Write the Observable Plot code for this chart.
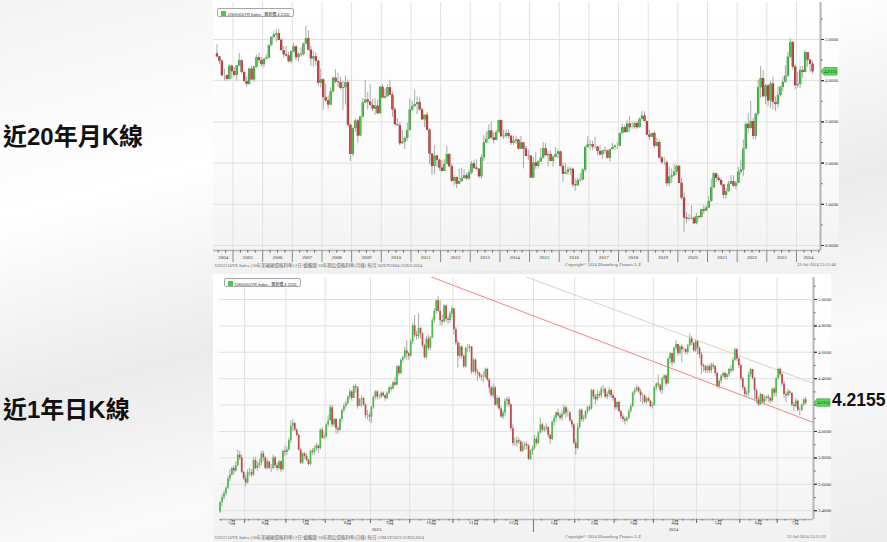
<!DOCTYPE html>
<html><head><meta charset="utf-8">
<script src="https://cdn.jsdelivr.net/npm/d3@7"></script>
<script src="https://cdn.jsdelivr.net/npm/@observablehq/plot@0.6"></script>
<style>
html,body{margin:0;padding:0;}
body{width:887px;height:542px;overflow:hidden;position:relative;
 background:linear-gradient(165deg,#f3f3f3 0%,#ffffff 28%,#ebebeb 52%,#fafafa 72%,#ececec 100%);
 font-family:"Liberation Sans","Noto Sans CJK TC",sans-serif;}
.panel{position:absolute;background:linear-gradient(to bottom,#ffffff 0%,#fbfbfb 60%,#f1f1f1 100%);}
.big{position:absolute;font-weight:700;color:#111;font-family:"Liberation Sans","Noto Sans CJK TC",sans-serif;white-space:nowrap;}
.tiny{position:absolute;white-space:nowrap;transform-origin:0 0;transform:scale(0.5);font-size:9px;color:#666;font-family:"Liberation Serif","Noto Sans CJK TC",serif;}
.legend{position:absolute;box-sizing:border-box;border:1px solid #a8a8a8;border-radius:2px;background:#fbfbfb;}
.legend .sw{position:absolute;left:3px;top:2px;width:5px;height:5px;background:#3fd13f;}
</style></head>
<body>
<div class="big" style="left:3px;top:124px;font-size:24px;line-height:26px;">近20年月K線</div>
<div class="big" style="left:3px;top:397px;font-size:24px;line-height:26px;">近1年日K線</div>
<div class="big" style="left:832px;top:391px;font-size:17.5px;line-height:19px;">4.2155</div>

<div id="top" class="panel" style="left:213px;top:0px;width:626px;height:271px;"></div>
<div id="bot" class="panel" style="left:213px;top:274px;width:618px;height:268px;"></div>

<script>
// ---------------- Monthly data (Jun 2004 – Jul 2024), USGG10YR ----------------
const monthlyStartYear = 2004, monthlyStartMonth = 6, monthlyFirstOpen = 4.65;
const monthlyClose = [
 4.58,4.47,4.12,4.12,4.03,4.35,4.22,
 4.13,4.36,4.48,4.20,3.98,3.91,4.28,4.02,4.33,4.56,4.49,4.39,
 4.52,4.55,4.85,5.05,5.11,5.14,4.98,4.73,4.63,4.60,4.46,4.70,
 4.82,4.56,4.64,4.63,4.89,5.02,4.74,4.53,4.58,4.47,3.94,4.02,
 3.59,3.51,3.41,3.73,4.06,3.97,3.95,3.81,3.83,3.95,2.92,2.21,
 2.84,3.02,2.66,3.12,3.46,3.53,3.48,3.40,3.31,3.38,3.20,3.84,
 3.58,3.61,3.83,3.65,3.29,2.93,2.91,2.47,2.51,2.60,2.79,3.29,
 3.37,3.42,3.47,3.29,3.05,3.16,2.80,2.22,1.92,2.17,2.07,1.88,
 1.80,1.97,2.21,1.91,1.56,1.65,1.49,1.55,1.63,1.69,1.62,1.76,
 1.98,1.88,1.85,1.67,2.13,2.49,2.58,2.78,2.61,2.55,2.74,3.03,
 2.64,2.65,2.72,2.65,2.48,2.53,2.56,2.34,2.49,2.34,2.16,2.17,
 1.64,2.00,1.92,2.03,2.12,2.35,2.18,2.21,2.04,2.14,2.21,2.27,
 1.92,1.73,1.77,1.83,1.85,1.47,1.45,1.58,1.59,1.83,2.38,2.44,
 2.45,2.39,2.39,2.28,2.20,2.30,2.29,2.12,2.33,2.38,2.41,2.41,
 2.72,2.86,2.74,2.95,2.86,2.86,2.96,2.86,3.06,3.14,3.01,2.68,
 2.63,2.72,2.41,2.50,2.12,2.01,2.01,1.50,1.66,1.69,1.78,1.92,
 1.51,1.15,0.67,0.64,0.65,0.66,0.53,0.70,0.68,0.87,0.84,0.91,
 1.07,1.40,1.74,1.63,1.58,1.47,1.22,1.31,1.49,1.55,1.44,1.51,
 1.78,1.83,2.34,2.94,2.84,3.01,2.65,3.19,3.83,4.05,3.61,3.87,
 3.51,3.92,3.47,3.42,3.64,3.84,3.96,4.11,4.57,4.93,4.33,3.88,
 3.91,4.25,4.20,4.68,4.50,4.40,4.2155
];
const monthlyHigh = [
 4.87,4.59,4.51,4.29,4.14,4.39,4.38,
 4.32,4.37,4.66,4.51,4.25,4.09,4.31,4.36,4.35,4.62,4.66,4.56,
 4.53,4.63,4.87,5.07,5.20,5.24,5.24,5.03,4.83,4.83,4.69,4.72,
 4.90,4.85,4.68,4.79,4.91,5.32,5.21,4.84,4.71,4.68,4.49,4.28,
 4.05,3.92,3.63,3.83,4.09,4.27,4.18,4.09,3.98,4.11,4.02,2.95,
 2.87,3.07,3.06,3.13,3.57,4.00,3.71,3.90,3.55,3.56,3.53,3.86,
 3.90,3.80,3.90,4.01,3.72,3.35,3.08,2.99,2.80,2.64,2.97,3.56,
 3.51,3.77,3.61,3.60,3.33,3.18,3.22,2.83,2.23,2.42,2.18,2.10,
 2.06,2.08,2.40,2.23,1.98,1.70,1.66,1.86,1.88,1.84,1.76,1.84,
 2.04,2.06,2.08,1.87,2.20,2.66,2.75,2.93,3.00,2.74,2.80,3.04,
 3.05,2.80,2.81,2.81,2.67,2.66,2.64,2.58,2.65,2.50,2.41,2.31,
 2.17,2.15,2.25,2.06,2.36,2.50,2.48,2.29,2.30,2.18,2.38,2.33,
 2.29,2.00,1.99,1.90,1.90,1.88,1.61,1.64,1.74,1.86,2.42,2.64,
 2.55,2.53,2.63,2.40,2.42,2.31,2.40,2.32,2.34,2.48,2.44,2.50,
 2.73,2.95,2.91,3.03,3.13,3.00,3.00,3.01,3.10,3.26,3.24,3.02,
 2.80,2.73,2.76,2.60,2.56,2.16,2.14,2.06,1.91,1.86,1.97,1.95,
 1.94,1.63,1.28,0.79,0.75,0.96,0.70,0.79,0.73,0.88,0.97,0.97,
 1.19,1.61,1.77,1.75,1.70,1.63,1.48,1.38,1.56,1.70,1.69,1.55,
 1.90,2.06,2.56,2.98,3.20,3.50,3.09,3.21,4.01,4.34,4.24,3.91,
 3.91,3.98,4.09,3.61,3.86,3.87,4.09,4.37,4.69,5.02,4.94,4.38,
 4.20,4.35,4.35,4.74,4.69,4.52,4.48
];
const monthlyLow = [
 4.55,4.39,4.10,3.99,3.98,4.01,4.04,
 4.09,3.99,4.34,4.16,3.96,3.84,3.89,4.00,3.96,4.30,4.41,4.33,
 4.31,4.50,4.55,4.84,5.01,4.93,4.97,4.72,4.55,4.57,4.43,4.41,
 4.67,4.48,4.45,4.57,4.60,4.88,4.72,4.35,4.33,4.36,3.85,3.83,
 3.28,3.48,3.31,3.40,3.71,3.92,3.83,3.78,3.28,3.41,2.86,2.04,
 2.15,2.75,2.48,2.64,3.10,3.45,3.29,3.37,3.25,3.16,3.18,3.19,
 3.58,3.56,3.60,3.64,3.11,2.93,2.89,2.42,2.46,2.33,2.53,2.78,
 3.26,3.36,3.17,3.27,3.04,2.86,2.78,1.97,1.70,1.72,1.89,1.80,
 1.78,1.79,1.96,1.90,1.53,1.44,1.38,1.47,1.54,1.60,1.58,1.58,
 1.72,1.84,1.83,1.62,1.61,2.04,2.47,2.56,2.58,2.46,2.54,2.73,
 2.63,2.57,2.60,2.59,2.43,2.43,2.45,2.31,2.33,1.86,2.16,2.07,
 1.64,1.62,1.85,1.85,2.02,2.10,2.17,1.91,2.03,1.90,2.14,2.11,
 1.90,1.53,1.73,1.70,1.70,1.40,1.32,1.44,1.53,1.57,1.76,2.36,
 2.31,2.31,2.34,2.17,2.18,2.10,2.22,2.10,2.03,2.31,2.31,2.33,
 2.40,2.70,2.73,2.73,2.76,2.82,2.82,2.81,2.85,3.05,3.00,2.68,
 2.55,2.62,2.35,2.39,2.12,1.97,1.94,1.43,1.43,1.51,1.69,1.71,
 1.51,1.11,0.31,0.54,0.60,0.62,0.51,0.50,0.62,0.65,0.76,0.82,
 0.90,1.04,1.39,1.53,1.53,1.42,1.13,1.13,1.28,1.48,1.41,1.35,
 1.50,1.71,1.67,2.33,2.71,2.82,2.57,2.57,3.13,3.57,3.60,3.42,
 3.37,3.33,3.29,3.25,3.33,3.60,3.73,3.94,4.08,4.53,4.26,3.78,
 3.82,3.82,4.05,4.19,4.33,4.19,4.16
];

// ---------------- Daily data (12 May 2023 – 22 Jul 2024) ----------------
const dailyStart = "2023-05-12", dailyFirstOpen = 3.39;
const dailyClose = [
 3.46,3.50,3.53,3.57,3.64,3.67,3.72,3.70,3.74,3.82,3.80,3.69,3.64,
 3.61,3.69,3.69,3.67,3.78,3.72,3.74,3.76,3.83,3.80,3.72,3.77,3.72,3.72,3.80,3.74,3.72,3.77,3.71,3.85,3.84,
 3.86,3.93,4.04,4.06,4.01,3.97,3.86,3.76,3.83,3.81,3.78,3.75,3.85,3.84,3.87,3.89,3.87,4.01,3.95,3.96,
 4.05,4.08,4.18,4.05,4.09,4.02,4.01,4.09,4.16,4.19,4.21,4.26,4.30,4.25,4.34,4.33,4.19,4.24,4.25,4.20,4.12,4.12,4.11,
 4.18,4.26,4.30,4.26,4.26,4.29,4.27,4.25,4.29,4.33,4.32,4.37,4.35,4.49,4.44,4.54,4.56,4.61,4.59,4.57,
 4.68,4.80,4.73,4.72,4.78,4.74,4.65,4.56,4.70,4.63,4.71,4.84,4.91,4.99,4.91,4.84,4.83,4.95,4.85,4.84,4.89,4.93,
 4.77,4.67,4.57,4.64,4.57,4.49,4.63,4.63,4.64,4.45,4.54,4.45,4.44,4.42,4.41,4.41,4.47,4.39,4.33,4.27,4.33,
 4.20,4.25,4.17,4.11,4.14,4.23,4.24,4.20,4.02,3.91,3.91,3.93,3.92,3.85,3.89,3.90,3.89,3.79,3.85,3.87,
 3.94,3.91,3.99,4.05,4.01,4.02,4.03,3.97,3.94,4.07,4.10,4.14,4.12,4.10,4.13,4.18,4.14,4.14,4.08,4.05,3.91,
 3.87,4.03,4.16,4.09,4.10,4.15,4.18,4.17,4.31,4.26,4.24,4.28,4.27,4.32,4.32,4.26,4.28,4.31,4.27,4.25,
 4.18,4.22,4.15,4.11,4.09,4.08,4.10,4.15,4.19,4.29,4.31,4.33,4.30,4.27,4.27,4.22,4.25,4.23,4.19,4.20,
 4.33,4.36,4.35,4.31,4.40,4.42,4.36,4.55,4.59,4.52,4.63,4.66,4.59,4.64,4.62,4.62,4.60,4.65,4.70,4.67,4.61,4.68,
 4.63,4.58,4.50,4.49,4.46,4.49,4.46,4.50,4.49,4.44,4.34,4.38,4.42,4.44,4.41,4.43,4.47,4.46,4.54,4.62,4.55,4.50,
 4.40,4.33,4.28,4.29,4.43,4.47,4.40,4.31,4.24,4.20,4.28,4.22,4.25,4.26,4.25,4.23,4.32,4.29,4.40,
 4.47,4.43,4.36,4.28,4.27,4.30,4.29,4.20,4.19,4.23,4.16,4.16,4.20,4.24,4.2155
];
const dailyHigh = [
 3.47,3.52,3.55,3.58,3.66,3.71,3.73,3.74,3.77,3.86,3.85,3.82,3.70,
 3.67,3.71,3.72,3.71,3.80,3.80,3.77,3.79,3.85,3.85,3.81,3.79,3.77,3.75,3.82,3.81,3.76,3.78,3.78,3.86,3.89,
 3.88,3.95,4.08,4.09,4.07,4.02,3.98,3.87,3.84,3.84,3.83,3.79,3.86,3.87,3.89,3.91,3.90,4.02,4.03,3.99,
 4.06,4.12,4.20,4.20,4.10,4.10,4.04,4.10,4.17,4.21,4.23,4.27,4.32,4.31,4.35,4.36,4.34,4.25,4.27,4.26,4.21,4.16,4.14,
 4.19,4.27,4.31,4.31,4.28,4.30,4.30,4.28,4.30,4.34,4.35,4.38,4.41,4.50,4.50,4.55,4.57,4.64,4.69,4.60,
 4.70,4.82,4.88,4.76,4.89,4.79,4.75,4.66,4.72,4.73,4.72,4.86,4.93,5.00,5.02,4.99,4.88,4.96,4.96,4.87,4.91,4.95,
 4.93,4.79,4.69,4.67,4.65,4.58,4.64,4.66,4.66,4.64,4.55,4.55,4.47,4.45,4.43,4.45,4.48,4.48,4.40,4.34,4.36,
 4.34,4.27,4.26,4.19,4.16,4.25,4.26,4.26,4.21,4.05,3.95,3.96,3.95,3.93,3.92,3.92,3.92,3.90,3.86,3.89,
 3.97,3.96,4.00,4.10,4.06,4.04,4.06,4.04,3.98,4.08,4.12,4.15,4.17,4.14,4.16,4.20,4.19,4.17,4.15,4.09,4.06,
 3.94,4.06,4.17,4.17,4.12,4.16,4.19,4.20,4.32,4.32,4.28,4.31,4.30,4.34,4.35,4.33,4.30,4.33,4.32,4.29,
 4.26,4.23,4.23,4.16,4.13,4.11,4.11,4.17,4.21,4.30,4.33,4.35,4.34,4.32,4.29,4.28,4.26,4.26,4.24,4.22,
 4.34,4.37,4.43,4.36,4.41,4.43,4.43,4.56,4.60,4.59,4.64,4.69,4.66,4.65,4.66,4.64,4.63,4.66,4.74,4.72,4.67,4.69,
 4.69,4.64,4.60,4.51,4.50,4.50,4.51,4.52,4.52,4.50,4.45,4.39,4.43,4.45,4.45,4.44,4.48,4.50,4.56,4.63,4.63,4.56,
 4.51,4.41,4.34,4.31,4.45,4.48,4.47,4.41,4.32,4.26,4.29,4.28,4.27,4.27,4.28,4.26,4.33,4.33,4.41,
 4.48,4.48,4.45,4.38,4.30,4.32,4.31,4.29,4.22,4.25,4.24,4.18,4.21,4.25,4.26
];
const dailyLow = [
 3.38,3.43,3.48,3.51,3.56,3.62,3.66,3.67,3.69,3.73,3.78,3.68,3.63,
 3.58,3.60,3.66,3.65,3.66,3.71,3.70,3.72,3.74,3.77,3.71,3.71,3.71,3.69,3.71,3.72,3.70,3.71,3.69,3.70,3.81,
 3.82,3.85,3.91,4.00,4.00,3.96,3.85,3.75,3.75,3.79,3.77,3.74,3.74,3.82,3.82,3.85,3.83,3.86,3.94,3.94,
 3.95,4.03,4.08,4.03,4.03,3.98,3.98,4.00,4.07,4.14,4.17,4.20,4.24,4.23,4.25,4.29,4.17,4.19,4.18,4.19,4.10,4.09,4.07,
 4.06,4.17,4.24,4.24,4.24,4.25,4.26,4.23,4.24,4.28,4.30,4.32,4.34,4.35,4.42,4.43,4.52,4.55,4.54,4.54,
 4.56,4.66,4.71,4.69,4.70,4.70,4.63,4.55,4.55,4.61,4.61,4.70,4.82,4.89,4.90,4.80,4.80,4.82,4.83,4.81,4.82,4.86,
 4.73,4.65,4.48,4.55,4.55,4.48,4.48,4.60,4.60,4.43,4.44,4.42,4.38,4.40,4.38,4.37,4.40,4.38,4.29,4.26,4.25,
 4.19,4.18,4.16,4.10,4.09,4.11,4.19,4.18,4.00,3.89,3.89,3.88,3.90,3.84,3.84,3.86,3.86,3.78,3.78,3.82,
 3.86,3.89,3.90,3.98,3.99,3.99,4.00,3.95,3.90,3.93,4.04,4.07,4.11,4.08,4.08,4.12,4.10,4.11,4.07,4.02,3.90,
 3.82,3.86,4.02,4.07,4.07,4.09,4.13,4.15,4.16,4.24,4.20,4.23,4.25,4.25,4.29,4.25,4.24,4.26,4.25,4.23,
 4.16,4.16,4.14,4.09,4.07,4.05,4.07,4.09,4.14,4.18,4.27,4.30,4.29,4.22,4.20,4.21,4.20,4.22,4.18,4.17,
 4.19,4.31,4.33,4.29,4.28,4.38,4.34,4.36,4.51,4.49,4.51,4.61,4.57,4.58,4.52,4.60,4.58,4.58,4.64,4.65,4.60,4.60,
 4.58,4.55,4.43,4.45,4.44,4.44,4.44,4.44,4.47,4.42,4.33,4.32,4.36,4.40,4.39,4.39,4.41,4.44,4.45,4.53,4.53,4.48,
 4.38,4.31,4.26,4.26,4.26,4.41,4.39,4.23,4.21,4.19,4.20,4.21,4.20,4.23,4.22,4.21,4.22,4.26,4.26,
 4.39,4.41,4.34,4.25,4.22,4.26,4.27,4.19,4.15,4.18,4.15,4.12,4.15,4.19,4.20
];
const holidays = ["2023-05-29","2023-06-19","2023-07-04","2023-09-04","2023-11-23","2023-12-25",
 "2024-01-01","2024-01-15","2024-02-19","2024-03-29","2024-05-27","2024-06-19","2024-07-04"];

// trend lines drawn on the daily chart (date, yield)
const redTrend = [{date:"2023-10-12", value:5.185},{date:"2024-07-26", value:4.068}];
const grayTrend = [{date:"2023-12-15", value:5.203},{date:"2024-07-26", value:4.364}];

// tick labels
const topYTicks = [0,1,2,3,4,5];
const topYMinor = [0.5,1.5,2.5,3.5,4.5,5.5];
const botYTicks = [3.4,3.6,3.8,4.0,4.2,4.4,4.6,4.8,5.0];
const botYMinor = [3.5,3.7,3.9,4.1,4.3,4.5,4.7,4.9,5.1];
const yearLabels = ["2004","2005","2006","2007","2008","2009","2010","2011","2012","2013","2014","2015","2016","2017","2018","2019","2020","2021","2022","2023","2024"];
const monthLabels = ["1月","2月","3月","4月","5月","6月","7月","8月","9月","10月","11月","12月"];
const lastValue = 4.2155;
const legendText = "USGG10YR Index - 最新價 4.2155";

// ---------------- styling constants ----------------
const UP = "#4fcf4f", UPD = "#2d7f2d", DN = "#cf4f4f", DND = "#8a2c2c", WICK = "#a9a9a9", GRID = "#e1e1e1";
const fmt4 = d3.format(".4f");
const axisFont = "Liberation Serif, Noto Sans CJK TC, serif";

function tag(value) {
  return (index, scales, values, dims) => {
    const y = scales.y(value);
    const x = dims.width - dims.marginRight + 1;
    const g = d3.create("svg:g");
    g.append("path").attr("d", `M${x},${y}L${x+3},${y-3.8}H${x+16}V${y+3.8}H${x+3}Z`)
      .attr("fill", "#5ad85a").attr("stroke", "#2f9a2f").attr("stroke-width", 0.6);
    g.append("text").attr("x", x + 9.5).attr("y", y).attr("dy", "0.35em").attr("text-anchor", "middle")
      .attr("font-size", 4.6).attr("font-family", axisFont).attr("fill", "#123").text(fmt4(value));
    return g.node();
  };
}
// hide tick labels the price tag covers (as on the terminal)
const visibleTicks = (ticks, perUnitPx) => ticks.filter(t => Math.abs(t - lastValue) * perUnitPx > 6);

// ---------------- TOP: monthly ----------------
const monthly = monthlyClose.map((c, i) => {
  const m0 = monthlyStartMonth - 1 + i;
  const year = monthlyStartYear + Math.floor(m0 / 12);
  const open = i === 0 ? monthlyFirstOpen : monthlyClose[i - 1];
  return {t: year + ((m0 % 12) + 0.5) / 12, open, close: c,
    high: Math.max(monthlyHigh[i], open, c), low: Math.min(monthlyLow[i], open, c)};
});
const tX = [2004.342, 2024.81];
const yearBounds = yearLabels.map(Number).filter(y => y > tX[0] && y < tX[1]);
const quarterTicks = d3.range(2004, 2025, 0.25).filter(q => q > tX[0] && q < tX[1] && q % 1 !== 0);
const yearLabelRows = yearLabels.map(s => {
  const y = +s; const a = Math.max(y, tX[0]), b = Math.min(y + 1, tX[1]);
  return {x: (a + b) / 2, label: s};
});

const topPlot = Plot.plot({
  width: 626, height: 271, marginLeft: 0, marginRight: 19, marginTop: 2, marginBottom: 21,
  x: {type: "linear", domain: tX, axis: null},
  y: {domain: [-0.121, 5.898], axis: null},
  style: {background: "transparent", overflow: "visible"},
  marks: [
    Plot.gridX(yearBounds, {stroke: GRID, strokeOpacity: 1}),
    Plot.gridY(topYTicks, {stroke: GRID, strokeOpacity: 1}),
    Plot.ruleX(monthly, {x: "t", y1: "low", y2: "high", stroke: WICK, strokeWidth: 1}),
    Plot.ruleX(monthly.filter(d => d.close >= d.open), {x: "t", y1: "open", y2: "close", stroke: UPD, strokeWidth: 2.3}),
    Plot.ruleX(monthly.filter(d => d.close >= d.open), {x: "t", y1: "open", y2: "close", stroke: UP, strokeWidth: 1.3}),
    Plot.ruleX(monthly.filter(d => d.close < d.open), {x: "t", y1: "open", y2: "close", stroke: DND, strokeWidth: 2.3}),
    Plot.ruleX(monthly.filter(d => d.close < d.open), {x: "t", y1: "open", y2: "close", stroke: DN, strokeWidth: 1.3}),
    Plot.ruleX([tX[1]], {stroke: "#b4b4b4", strokeWidth: 2}),
    Plot.ruleY([-0.121], {stroke: "#b4b4b4", strokeWidth: 1.5}),
    Plot.axisY({ticks: topYTicks, anchor: "right", tickSize: 3, tickPadding: 1.5, tickFormat: () => "", stroke: "#333"}),
    Plot.axisY({ticks: visibleTicks(topYTicks, 41.2), anchor: "right", tickSize: 3, tickPadding: 1.5, tickFormat: fmt4, fontSize: 4.8, fontFamily: axisFont, stroke: "#333", fill: "#333"}),
    Plot.axisY({ticks: topYMinor, anchor: "right", tickSize: 1.5, tickFormat: () => "", stroke: "#555"}),
    Plot.axisX({ticks: quarterTicks, anchor: "bottom", tickSize: 2.5, tickFormat: () => "", stroke: "#666"}),
    Plot.axisX({ticks: yearBounds, anchor: "bottom", tickSize: 12, tickFormat: () => "", stroke: "#888"}),
    Plot.text(yearLabelRows, {x: "x", text: "label", frameAnchor: "bottom", dy: 8.5, fontSize: 5, fontFamily: axisFont, fill: "#333"}),
    tag(lastValue)
  ]
});
document.getElementById("top").append(topPlot);

// ---------------- BOTTOM: daily ----------------
function tradingDays(startISO, endISO) {
  const hol = new Set(holidays), out = [];
  const end = new Date(endISO + "T00:00:00Z");
  for (let d = new Date(startISO + "T00:00:00Z"); d <= end; d = new Date(d.getTime() + 864e5)) {
    const wd = d.getUTCDay(), iso = d.toISOString().slice(0, 10);
    if (wd !== 0 && wd !== 6 && !hol.has(iso)) out.push(iso);
  }
  return out;
}
const days = tradingDays(dailyStart, "2024-07-31");
const daily = dailyClose.map((c, i) => {
  const open = i === 0 ? dailyFirstOpen : dailyClose[i - 1];
  return {i, date: days[i], open, close: c,
    high: Math.max(dailyHigh[i], open, c), low: Math.min(dailyLow[i], open, c)};
});
const dX = [-0.3, 302];
const monthsMap = d3.groups(days.map((d, i) => ({d, i})), r => r.d.slice(0, 7));
const monthRows = monthsMap.map(([k, rows]) => {
  const first = rows[0].i, last = rows[rows.length - 1].i;
  const a = Math.max(first - 0.5, dX[0]), b = Math.min(last + 0.5, dX[1]);
  return {key: k, start: first - 0.5, x: (a + b) / 2, label: monthLabels[+k.slice(5, 7) - 1]};
}).filter(r => r.start < dX[1]);
const monthBounds = monthRows.map(r => r.start).filter(s => s > dX[0] && s < dX[1]);
const yearsMap = d3.groups(days.map((d, i) => ({d, i})), r => r.d.slice(0, 4));
const yearRows = yearsMap.map(([k, rows]) => {
  const a = Math.max(rows[0].i - 0.5, dX[0]), b = Math.min(rows[rows.length - 1].i + 0.5, dX[1]);
  return {x: (a + b) / 2, label: k, start: rows[0].i - 0.5};
});
const yearBoundsD = yearRows.map(r => r.start).filter(s => s > dX[0] && s < dX[1]);
const weekTicks = days.map((d, i) => ({d, i})).filter(r => new Date(r.d + "T00:00:00Z").getUTCDay() === 1 && r.i < dX[1]).map(r => r.i - 0.5);
const trend = arr => arr.map(p => ({x: days.indexOf(p.date), y: p.value}));

const botPlot = Plot.plot({
  width: 618, height: 268, marginLeft: 6, marginRight: 18, marginTop: 3, marginBottom: 23,
  x: {type: "linear", domain: dX, axis: null},
  y: {domain: [3.3333, 5.1667], axis: null},
  style: {background: "transparent", overflow: "visible"},
  marks: [
    Plot.gridX(monthBounds, {stroke: GRID, strokeOpacity: 1}),
    Plot.gridY(botYTicks, {stroke: GRID, strokeOpacity: 1}),
    Plot.line(trend(grayTrend), {x: "x", y: "y", stroke: "#d9d4bf", strokeWidth: 1, clip: true}),
    Plot.line(trend(redTrend), {x: "x", y: "y", stroke: "#f58383", strokeWidth: 1, clip: true}),
    Plot.ruleX(daily, {x: "i", y1: "low", y2: "high", stroke: WICK, strokeWidth: 1}),
    Plot.ruleX(daily.filter(d => d.close >= d.open), {x: "i", y1: "open", y2: "close", stroke: "#47bd47", strokeWidth: 1.7}),
    Plot.ruleX(daily.filter(d => d.close < d.open), {x: "i", y1: "open", y2: "close", stroke: "#bf4848", strokeWidth: 1.7}),
    Plot.ruleX([dX[1]], {stroke: "#b4b4b4", strokeWidth: 2}),
    Plot.ruleY([3.3333], {stroke: "#b4b4b4", strokeWidth: 1.5}),
    Plot.axisY({ticks: botYTicks, anchor: "right", tickSize: 3, tickPadding: 1.5, tickFormat: () => "", stroke: "#333"}),
    Plot.axisY({ticks: visibleTicks(botYTicks, 132), anchor: "right", tickSize: 3, tickPadding: 1.5, tickFormat: fmt4, fontSize: 4.8, fontFamily: axisFont, stroke: "#333", fill: "#333"}),
    Plot.axisY({ticks: botYMinor, anchor: "right", tickSize: 1.5, tickFormat: () => "", stroke: "#555"}),
    Plot.axisX({ticks: weekTicks, anchor: "bottom", tickSize: 1.5, tickFormat: () => "", stroke: "#777"}),
    Plot.axisX({ticks: monthBounds, anchor: "bottom", tickSize: 4, tickFormat: () => "", stroke: "#666"}),
    Plot.axisX({ticks: yearBoundsD, anchor: "bottom", tickSize: 13, tickFormat: () => "", stroke: "#777"}),
    Plot.text(monthRows, {x: "x", text: "label", frameAnchor: "bottom", dy: 4.5, fontSize: 5, fontFamily: axisFont, fill: "#333"}),
    Plot.text(yearRows, {x: "x", text: "label", frameAnchor: "bottom", dy: 11, fontSize: 4.8, fontFamily: axisFont, fill: "#333"}),
    tag(lastValue)
  ]
});
document.getElementById("bot").append(botPlot);

// legends & footers
function addLegend(panelId, left, top) {
  const p = document.getElementById(panelId);
  const box = document.createElement("div");
  box.className = "legend";
  box.style.cssText = `left:${left}px;top:${top}px;width:77px;height:9px;`;
  box.innerHTML = `<div class="sw"></div><div class="tiny" style="left:10px;top:1.5px;font-size:8px;color:#333;font-family:'Liberation Sans','Noto Sans CJK TC',sans-serif;">${legendText}</div>`;
  p.append(box);
}
addLegend("top", 4, 8);
addLegend("bot", 11, 4);
function addFooter(panelId, left, top, text) {
  const d = document.createElement("div");
  d.className = "tiny"; d.style.left = left + "px"; d.style.top = top + "px"; d.textContent = text;
  document.getElementById(panelId).append(d);
}
addFooter("top", 2, 262, "USGG10YR Index (10年美國國債殖利率)  2日-蠟燭圖-10年期公債殖利率(月線)   每月 30JUN2004-22JUL2024");
addFooter("top", 352, 262, "Copyright\u00a9 2024 Bloomberg Finance L.P.");
addFooter("top", 584, 262, "22-Jul-2024 15:51:48");
addFooter("bot", 2, 260, "USGG10YR Index (10年美國國債殖利率)  2日-蠟燭圖-10年期公債殖利率(日線)   每日 12MAY2023-22JUL2024");
addFooter("bot", 352, 260, "Copyright\u00a9 2024 Bloomberg Finance L.P.");
addFooter("bot", 574, 260, "22-Jul-2024 15:51:26");
</script>
</body></html>
